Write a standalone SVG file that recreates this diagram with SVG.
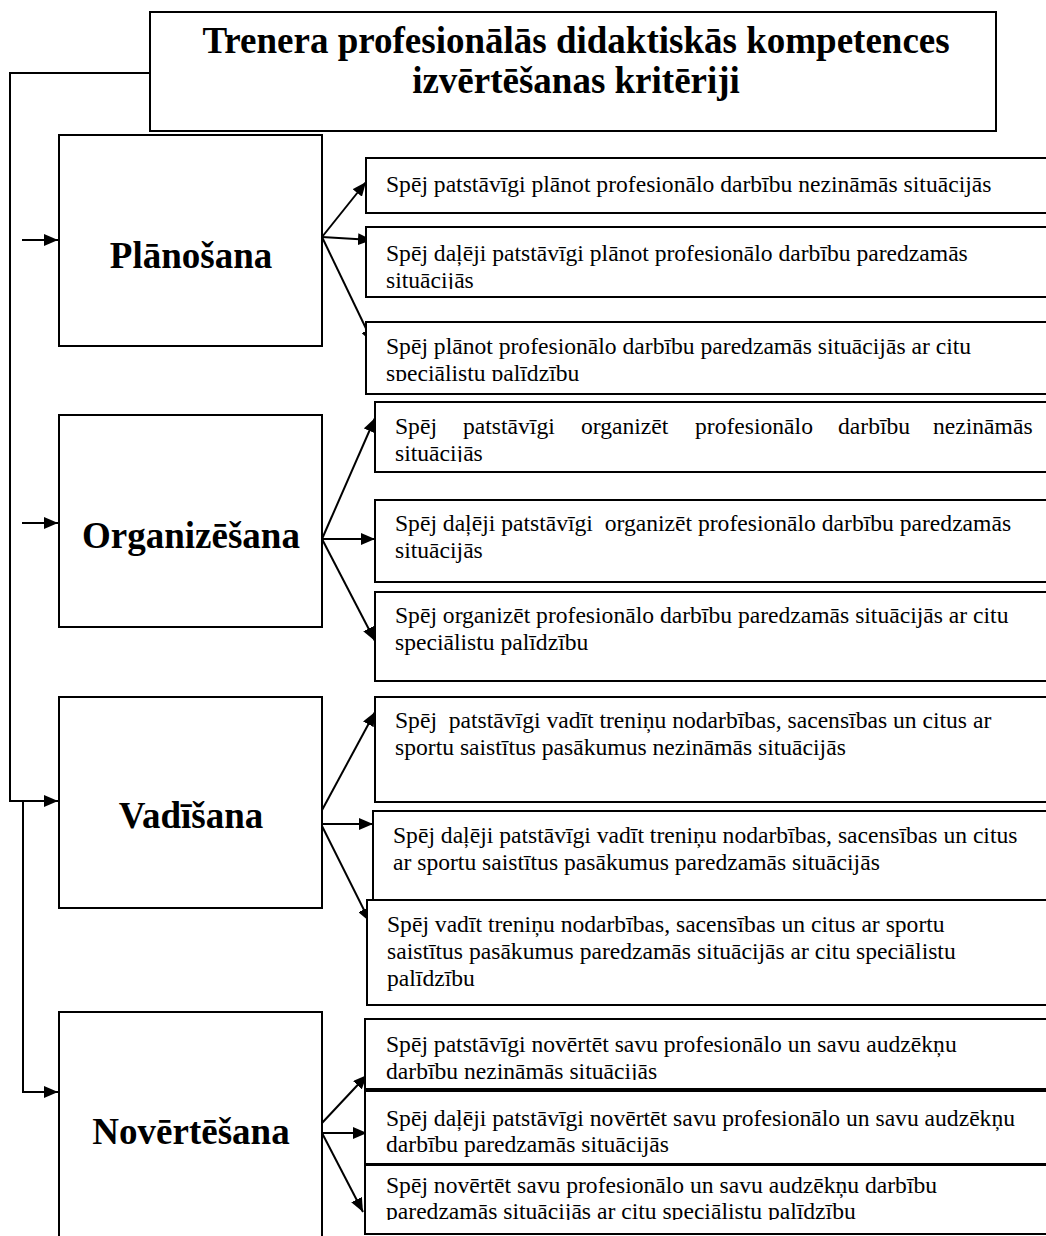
<svg xmlns="http://www.w3.org/2000/svg" width="1046" height="1236" viewBox="0 0 1046 1236">
<style>
.box{fill:#fff;stroke:#000;stroke-width:2}
.con{fill:none;stroke:#000;stroke-width:2}
.t{font-family:"Liberation Serif","Times New Roman",serif;font-size:23.6px;fill:#000}
.lab{font-family:"Liberation Serif","Times New Roman",serif;font-size:37px;font-weight:bold;fill:#000;text-anchor:middle}
.title{font-family:"Liberation Serif","Times New Roman",serif;font-size:37px;font-weight:bold;fill:#000;text-anchor:middle}
</style>
<defs>
<marker id="ah" markerWidth="14" markerHeight="12" refX="14" refY="6" orient="auto" markerUnits="userSpaceOnUse">
<path d="M0,0 L14,6 L0,12 z" fill="#000"/>
</marker>
<clipPath id="c1"><rect x="360" y="220" width="690" height="69"/></clipPath>
<clipPath id="c2"><rect x="360" y="315" width="690" height="66"/></clipPath>
<clipPath id="c3"><rect x="360" y="395" width="690" height="67"/></clipPath>
<clipPath id="c4"><rect x="360" y="1010" width="690" height="70"/></clipPath>
<clipPath id="c5"><rect x="360" y="1160" width="690" height="60"/></clipPath>
</defs>
<rect width="1046" height="1236" fill="#fff"/>

<g id="connectors">
<path class="con" d="M150,73 H10 V801 H58" marker-end="url(#ah)"/>
<path class="con" d="M23,801 V1092 H58" marker-end="url(#ah)"/>
<path class="con" d="M22,240 H58" marker-end="url(#ah)"/>
<path class="con" d="M22,523 H58" marker-end="url(#ah)"/>
<path class="con" d="M322,237 L366,182" marker-end="url(#ah)"/>
<path class="con" d="M322,237 L372,240" marker-end="url(#ah)"/>
<path class="con" d="M322,237 L373,343" marker-end="url(#ah)"/>
<path class="con" d="M322,539 L375,418" marker-end="url(#ah)"/>
<path class="con" d="M322,539 L375,539" marker-end="url(#ah)"/>
<path class="con" d="M322,539 L375,641" marker-end="url(#ah)"/>
<path class="con" d="M321,812 L375,712" marker-end="url(#ah)"/>
<path class="con" d="M321,824 L373,824" marker-end="url(#ah)"/>
<path class="con" d="M321,824 L370,922" marker-end="url(#ah)"/>
<path class="con" d="M322,1123 L367,1075" marker-end="url(#ah)"/>
<path class="con" d="M322,1133 L367,1133" marker-end="url(#ah)"/>
<path class="con" d="M322,1133 L363,1212" marker-end="url(#ah)"/>
</g>

<g id="title">
<rect class="box" x="150" y="12" width="846" height="119"/>
<text class="title" x="576" y="53">Trenera profesionālās didaktiskās kompetences</text>
<text class="title" x="576" y="93">izvērtēšanas kritēriji</text>
</g>

<g id="planosana">
<rect class="box" x="59" y="135" width="263" height="211"/>
<text class="lab" x="191" y="268">Plānošana</text>
</g>
<g id="p1">
<rect class="box" x="366" y="158" width="690" height="55"/>
<text class="t" x="386" y="192">Spēj patstāvīgi plānot profesionālo darbību nezināmās situācijās</text>
</g>
<g id="p2">
<rect class="box" x="366" y="227" width="690" height="70"/>
<g clip-path="url(#c1)"><text class="t" x="386" y="261">Spēj daļēji patstāvīgi plānot profesionālo darbību paredzamās</text>
<text class="t" x="386" y="288">situācijās</text></g>
</g>
<g id="p3">
<rect class="box" x="366" y="322" width="690" height="72"/>
<g clip-path="url(#c2)"><text class="t" x="386" y="354">Spēj plānot profesionālo darbību paredzamās situācijās ar citu</text>
<text class="t" x="386" y="381">speciālistu palīdzību</text></g>
</g>

<g id="organizesana">
<rect class="box" x="59" y="415" width="263" height="212"/>
<text class="lab" x="191" y="548">Organizēšana</text>
</g>
<g id="o1">
<rect class="box" x="375" y="402" width="690" height="70"/>
<g clip-path="url(#c3)"><text class="t" y="434"><tspan x="395">Spēj</tspan><tspan x="463">patstāvīgi</tspan><tspan x="581">organizēt</tspan><tspan x="695">profesionālo</tspan><tspan x="838">darbību</tspan><tspan x="933">nezināmās</tspan></text>
<text class="t" x="395" y="461">situācijās</text></g>
</g>
<g id="o2">
<rect class="box" x="375" y="500" width="690" height="82"/>
<text class="t" x="395" y="531" xml:space="preserve">Spēj daļēji patstāvīgi  organizēt profesionālo darbību paredzamās</text>
<text class="t" x="395" y="558">situācijās</text>
</g>
<g id="o3">
<rect class="box" x="375" y="592" width="690" height="89"/>
<text class="t" x="395" y="623">Spēj organizēt profesionālo darbību paredzamās situācijās ar citu</text>
<text class="t" x="395" y="650">speciālistu palīdzību</text>
</g>

<g id="vadisana">
<rect class="box" x="59" y="697" width="263" height="211"/>
<text class="lab" x="191" y="828">Vadīšana</text>
</g>
<g id="v1">
<rect class="box" x="375" y="697" width="690" height="105"/>
<text class="t" x="395" y="728" xml:space="preserve">Spēj  patstāvīgi vadīt treniņu nodarbības, sacensības un citus ar</text>
<text class="t" x="395" y="755">sportu saistītus pasākumus nezināmās situācijās</text>
</g>
<g id="v2">
<rect class="box" x="373" y="811" width="690" height="100"/>
<text class="t" x="393" y="843">Spēj daļēji patstāvīgi vadīt treniņu nodarbības, sacensības un citus</text>
<text class="t" x="393" y="870">ar sportu saistītus pasākumus paredzamās situācijās</text>
</g>
<g id="v3">
<rect class="box" x="367" y="900" width="690" height="105"/>
<text class="t" x="387" y="932">Spēj vadīt treniņu nodarbības, sacensības un citus ar sportu</text>
<text class="t" x="387" y="959">saistītus pasākumus paredzamās situācijās ar citu speciālistu</text>
<text class="t" x="387" y="986">palīdzību</text>
</g>

<g id="novertesana">
<rect class="box" x="59" y="1012" width="263" height="240"/>
<text class="lab" x="191" y="1144">Novērtēšana</text>
</g>
<g id="n1">
<rect class="box" x="365" y="1019" width="690" height="70"/>
<g clip-path="url(#c4)"><text class="t" x="386" y="1052">Spēj patstāvīgi novērtēt savu profesionālo un savu audzēkņu</text>
<text class="t" x="386" y="1079">darbību nezināmās situācijās</text></g>
</g>
<g id="n2">
<rect class="box" x="365" y="1091" width="690" height="73"/>
<text class="t" x="386" y="1126">Spēj daļēji patstāvīgi novērtēt savu profesionālo un savu audzēkņu</text>
<text class="t" x="386" y="1152">darbību paredzamās situācijās</text>
</g>
<g id="n3">
<rect class="box" x="365" y="1165" width="690" height="69"/>
<g clip-path="url(#c5)"><text class="t" x="386" y="1193">Spēj novērtēt savu profesionālo un savu audzēkņu darbību</text>
<text class="t" x="386" y="1219">paredzamās situācijās ar citu speciālistu palīdzību</text></g>
</g>
</svg>
